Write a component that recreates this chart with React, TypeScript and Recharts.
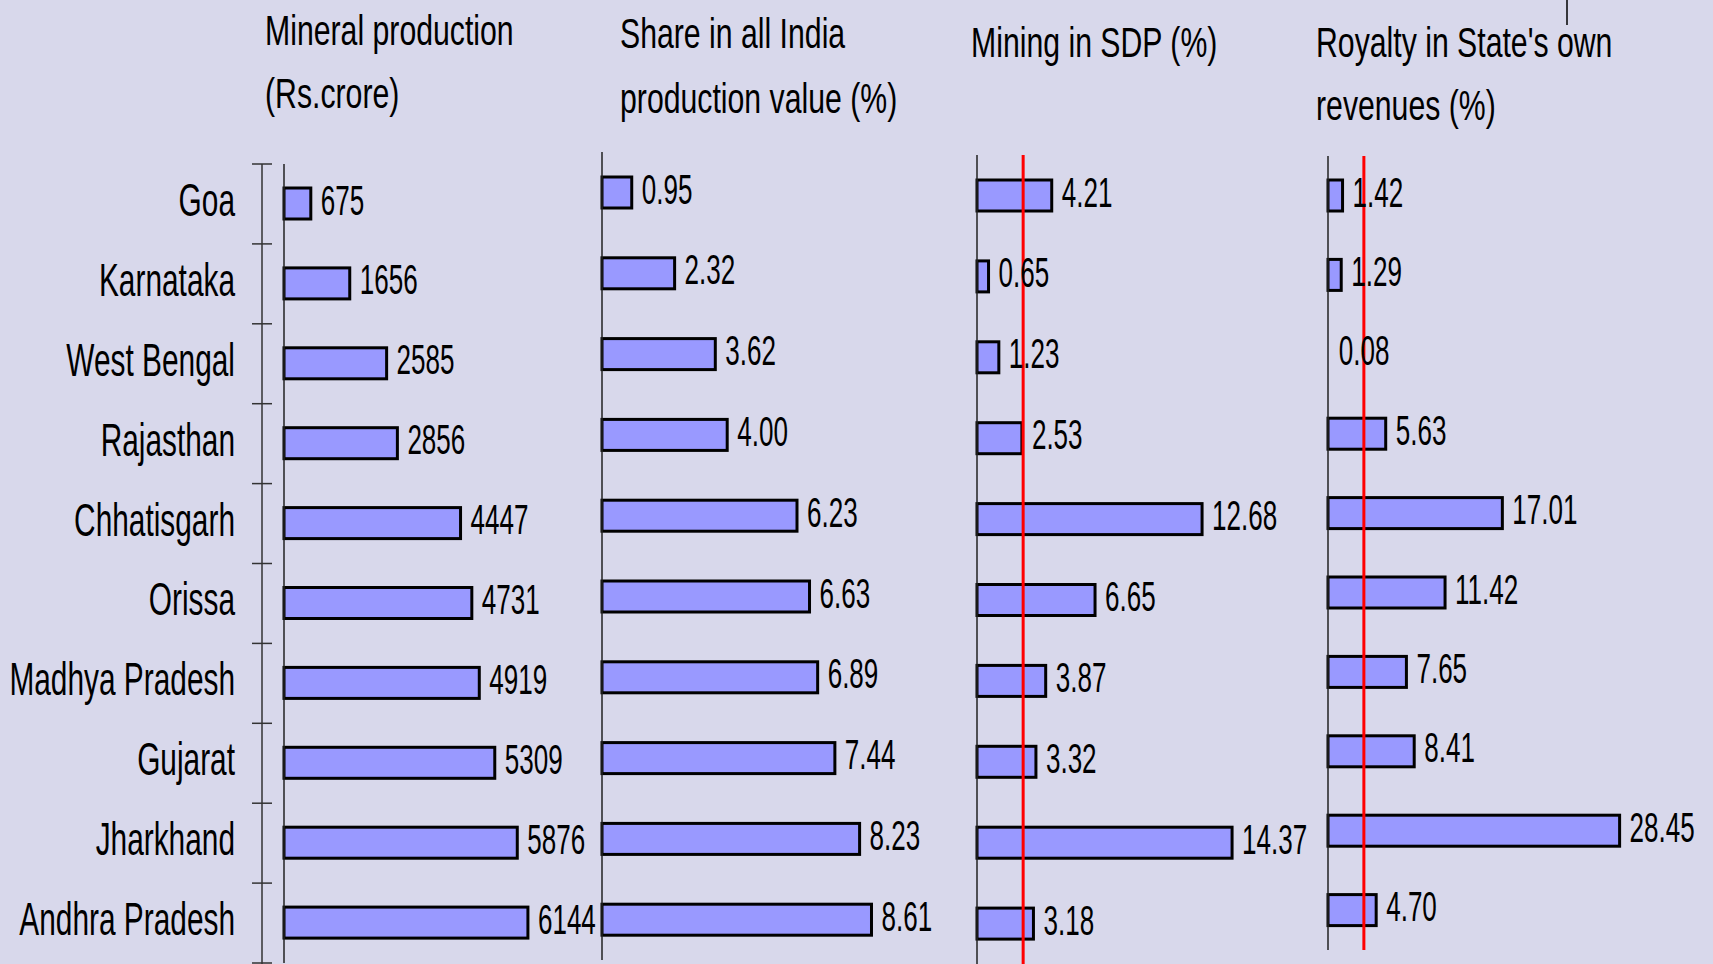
import React from "react";
import { BarChart, Bar, XAxis, YAxis, ReferenceLine, LabelList } from "recharts";

const states = [
  "Goa",
  "Karnataka",
  "West Bengal",
  "Rajasthan",
  "Chhatisgarh",
  "Orissa",
  "Madhya Pradesh",
  "Gujarat",
  "Jharkhand",
  "Andhra Pradesh",
];
const mineralProduction = [675, 1656, 2585, 2856, 4447, 4731, 4919, 5309, 5876, 6144];
const shareInAllIndia = [0.95, 2.32, 3.62, 4.0, 6.23, 6.63, 6.89, 7.44, 8.23, 8.61];
const miningInSdp = [4.21, 0.65, 1.23, 2.53, 12.68, 6.65, 3.87, 3.32, 14.37, 3.18];
const royaltyInOwnRevenue = [1.42, 1.29, 0.08, 5.63, 17.01, 11.42, 7.65, 8.41, 28.45, 4.7];
const sdpMarker = 2.6;
const royaltyMarker = 3.5;

const data = states.map((state, i) => ({
  state,
  mineral: mineralProduction[i],
  share: shareInAllIndia[i],
  sdp: miningInSdp[i],
  royalty: royaltyInOwnRevenue[i],
}));

const PAGE_W = 1713;
const PAGE_H = 964;
const FONT = "'Liberation Sans', Arial, sans-serif";
const BG = "#D8D8EB";

// squeezed text, the original uses a very narrow face
const Squeezed = ({ x, y, size, sx, anchor = "start", children }: any) => (
  <text
    transform={`translate(${x},${y}) scale(${sx},1)`}
    fontSize={size}
    fontFamily={FONT}
    textAnchor={anchor}
    fill="#000"
  >
    {children}
  </text>
);

const OutlinedBar = (props: any) => {
  const { x, y, width, height } = props;
  if (width < 2) return <g />;
  return (
    <rect x={x} y={y} width={width} height={height} fill="#9999FF" stroke="#000" strokeWidth={3} />
  );
};

const valueLabel = (fmt: (v: number) => string) => (props: any) => {
  const { x, y, width, height, value } = props;
  return (
    <Squeezed x={Number(x) + Number(width) + 10} y={Number(y) + Number(height) / 2 + 11} size={42} sx={0.62}>
      {fmt(Number(value))}
    </Squeezed>
  );
};

const StateTick = (props: any) => {
  const { y, payload, index, band, axisX } = props;
  const half = band / 2;
  const last = index === states.length - 1;
  return (
    <g>
      <line x1={axisX} y1={y - half} x2={axisX} y2={last ? PAGE_H : y + half} stroke="#333" strokeWidth={1.5} />
      <line x1={axisX - 10} y1={y - half} x2={axisX + 10} y2={y - half} stroke="#333" strokeWidth={1.5} />
      {last && <line x1={axisX - 10} y1={y + half} x2={axisX + 10} y2={y + half} stroke="#333" strokeWidth={1.5} />}
      <Squeezed x={235} y={y + 12} size={47} sx={0.635} anchor="end">
        {payload.value}
      </Squeezed>
    </g>
  );
};

type PanelProps = {
  dataKey: string;
  axisX: number;
  top: number;
  bottom: number;
  max: number;
  pxPerUnit: number;
  fmt: (v: number) => string;
  marker?: number;
  categoryAxis?: boolean;
};

const Panel = ({ dataKey, axisX, top, bottom, max, pxPerUnit, fmt, marker, categoryAxis }: PanelProps) => {
  const plotW = max * pxPerUnit;
  const left = categoryAxis ? 0 : axisX - 10;
  const yAxisW = categoryAxis ? axisX : 10;
  const right = 90;
  const band = (bottom - top) / states.length;
  return (
    <div style={{ position: "absolute", left, top: 0 }}>
      <BarChart
        width={yAxisW + plotW + right}
        height={PAGE_H}
        data={data}
        layout="vertical"
        margin={{ top, bottom: PAGE_H - bottom, left: 0, right }}
        barSize={31}
      >
        <XAxis type="number" domain={[0, max]} hide />
        <YAxis
          type="category"
          dataKey="state"
          width={yAxisW}
          interval={0}
          axisLine={{ stroke: "#222", strokeWidth: 1.5 }}
          tickLine={false}
          tick={categoryAxis ? <StateTick band={band} axisX={262} /> : false}
        />
        <Bar dataKey={dataKey} isAnimationActive={false} shape={<OutlinedBar />}>
          <LabelList dataKey={dataKey} content={valueLabel(fmt)} />
        </Bar>
        {marker !== undefined && (
          <ReferenceLine x={marker} stroke="#FF0000" strokeWidth={3} />
        )}
      </BarChart>
    </div>
  );
};

const whole = (v: number) => String(Math.round(v));
const twoDp = (v: number) => v.toFixed(2);

export default function App() {
  return (
    <div
      style={{
        position: "fixed",
        left: 0,
        top: 0,
        width: PAGE_W,
        height: PAGE_H,
        background: BG,
        overflow: "hidden",
      }}
    >
      <Panel dataKey="mineral" axisX={284} top={164} bottom={963} max={7500} pxPerUnit={0.0397} fmt={whole} categoryAxis />
      <Panel dataKey="share" axisX={602} top={152} bottom={960} max={10} pxPerUnit={31.3} fmt={twoDp} />
      <Panel dataKey="sdp" axisX={977} top={155} bottom={964} max={18} pxPerUnit={17.75} fmt={twoDp} marker={sdpMarker} />
      <Panel dataKey="royalty" axisX={1328} top={156} bottom={950} max={30} pxPerUnit={10.25} fmt={twoDp} marker={royaltyMarker} />

      <svg width={PAGE_W} height={PAGE_H} style={{ position: "absolute", left: 0, top: 0, pointerEvents: "none" }}>
        <Squeezed x={265} y={45} size={42} sx={0.72}>Mineral production</Squeezed>
        <Squeezed x={265} y={108} size={42} sx={0.72}>(Rs.crore)</Squeezed>
        <Squeezed x={620} y={48} size={42} sx={0.72}>Share in all India</Squeezed>
        <Squeezed x={620} y={113} size={42} sx={0.72}>production value (%)</Squeezed>
        <Squeezed x={971} y={57} size={42} sx={0.72}>Mining in SDP (%)</Squeezed>
        <Squeezed x={1316} y={57} size={42} sx={0.72}>Royalty in State's own</Squeezed>
        <Squeezed x={1316} y={120} size={42} sx={0.72}>revenues (%)</Squeezed>
        <line x1={1567} y1={0} x2={1567} y2={25} stroke="#000" strokeWidth={1.5} />
      </svg>
    </div>
  );
}
